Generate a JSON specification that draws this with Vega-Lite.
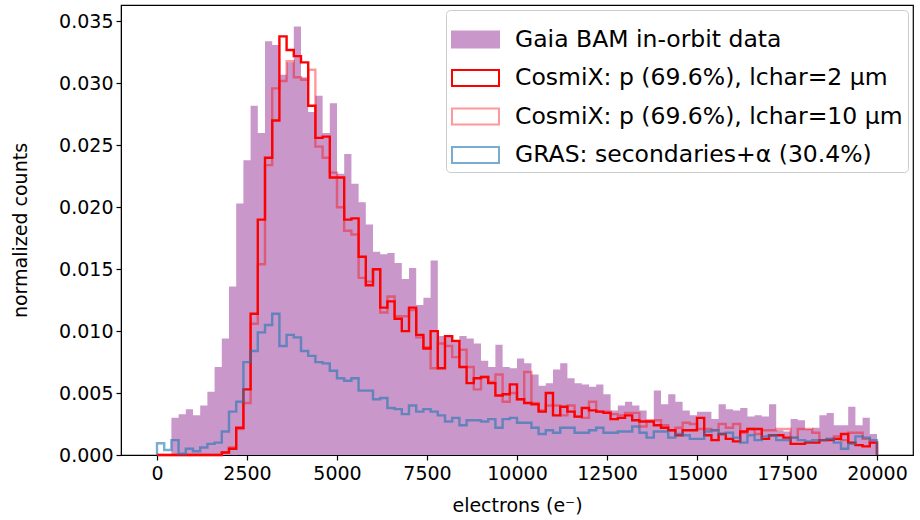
{
  "$schema": "https://vega.github.io/schema/vega-lite/v6.json",
  "width": 792,
  "height": 450,
  "autosize": {"type": "none"},
  "padding": {"left": 121, "top": 5, "right": 7, "bottom": 65},
  "background": "white",
  "config": {
    "font": "DejaVu Sans",
    "view": {"stroke": "black", "strokeWidth": 1.2},
    "axis": {"grid": false, "domainColor": "black", "tickColor": "black", "tickSize": 5, "tickWidth": 1.2, "labelFontSize": 19, "labelColor": "black", "titleFontSize": 19, "titleFontWeight": "normal", "titleColor": "black", "labelFont": "DejaVu Sans", "titleFont": "DejaVu Sans"},
    "legend": {"orient": "top-right", "offset": 5, "padding": 5, "titlePadding": 0, "fillColor": "rgba(255,255,255,0.85)", "strokeColor": "#cccccc", "strokeWidth": 1, "cornerRadius": 4, "labelFontSize": 23.5, "labelFont": "DejaVu Sans", "labelColor": "black", "labelLimit": 600, "symbolSize": 2209, "symbolStrokeWidth": 2, "rowPadding": 1.5, "labelOffset": 15}
  },
  "datasets": {
    "h": [
      {"k":0,"e":0,"gaia":0,"p2":0,"p10":0,"gras":0},
      {"k":1,"e":0,"gaia":0,"p2":0,"p10":0,"gras":0.00095},
      {"k":2,"e":200,"gaia":0,"p2":0,"p10":0,"gras":0.0004},
      {"k":3,"e":400,"gaia":0.0030,"p2":0,"p10":0,"gras":0.0012},
      {"k":4,"e":600,"gaia":0.0033,"p2":0,"p10":0,"gras":0.0001},
      {"k":5,"e":800,"gaia":0.0037,"p2":0,"p10":0,"gras":0.0005},
      {"k":6,"e":1000,"gaia":0.0032,"p2":0,"p10":0,"gras":0.0003},
      {"k":7,"e":1200,"gaia":0.0040,"p2":0,"p10":0,"gras":0.0006},
      {"k":8,"e":1400,"gaia":0.0051,"p2":0,"p10":0,"gras":0.0009},
      {"k":9,"e":1600,"gaia":0.0071,"p2":0,"p10":0,"gras":0.0010},
      {"k":10,"e":1800,"gaia":0.0094,"p2":0.0002,"p10":0.0002,"gras":0.0019},
      {"k":11,"e":2000,"gaia":0.0136,"p2":0.0005,"p10":0.0006,"gras":0.0035},
      {"k":12,"e":2200,"gaia":0.0203,"p2":0.0022,"p10":0.0021,"gras":0.0043},
      {"k":13,"e":2400,"gaia":0.0238,"p2":0.0053,"p10":0.0042,"gras":0.0075},
      {"k":14,"e":2600,"gaia":0.0282,"p2":0.0114,"p10":0.0106,"gras":0.0084},
      {"k":15,"e":2800,"gaia":0.0260,"p2":0.0190,"p10":0.0154,"gras":0.0099},
      {"k":16,"e":3000,"gaia":0.0334,"p2":0.0240,"p10":0.0234,"gras":0.0105},
      {"k":17,"e":3200,"gaia":0.0331,"p2":0.0270,"p10":0.0296,"gras":0.0114},
      {"k":18,"e":3400,"gaia":0.0307,"p2":0.0338,"p10":0.0302,"gras":0.0088},
      {"k":19,"e":3600,"gaia":0.0317,"p2":0.0327,"p10":0.0318,"gras":0.0097},
      {"k":20,"e":3800,"gaia":0.0346,"p2":0.0322,"p10":0.0305,"gras":0.0095},
      {"k":21,"e":4000,"gaia":0.0305,"p2":0.0317,"p10":0.0303,"gras":0.0084},
      {"k":22,"e":4200,"gaia":0.0277,"p2":0.0282,"p10":0.0311,"gras":0.0080},
      {"k":23,"e":4400,"gaia":0.0290,"p2":0.0256,"p10":0.0249,"gras":0.0075},
      {"k":24,"e":4600,"gaia":0.0260,"p2":0.0257,"p10":0.0240,"gras":0.0074},
      {"k":25,"e":4800,"gaia":0.0284,"p2":0.0224,"p10":0.0228,"gras":0.0068},
      {"k":26,"e":5000,"gaia":0.0227,"p2":0.0224,"p10":0.0200,"gras":0.0062},
      {"k":27,"e":5200,"gaia":0.0243,"p2":0.0190,"p10":0.0181,"gras":0.0060},
      {"k":28,"e":5400,"gaia":0.0219,"p2":0.0191,"p10":0.0178,"gras":0.0062},
      {"k":29,"e":5600,"gaia":0.0204,"p2":0.0160,"p10":0.0143,"gras":0.0052},
      {"k":30,"e":5800,"gaia":0.0186,"p2":0.0137,"p10":0.0140,"gras":0.0052},
      {"k":31,"e":6000,"gaia":0.0164,"p2":0.0150,"p10":0.0150,"gras":0.0045},
      {"k":32,"e":6200,"gaia":0.0162,"p2":0.0119,"p10":0.0115,"gras":0.0046},
      {"k":33,"e":6400,"gaia":0.0163,"p2":0.0124,"p10":0.0128,"gras":0.0038},
      {"k":34,"e":6600,"gaia":0.0155,"p2":0.0110,"p10":0.0112,"gras":0.0037},
      {"k":35,"e":6800,"gaia":0.0142,"p2":0.0100,"p10":0.0112,"gras":0.0033},
      {"k":36,"e":7000,"gaia":0.0151,"p2":0.0119,"p10":0.0117,"gras":0.0040},
      {"k":37,"e":7200,"gaia":0.0121,"p2":0.0097,"p10":0.0095,"gras":0.0035},
      {"k":38,"e":7400,"gaia":0.0127,"p2":0.0086,"p10":0.0087,"gras":0.0037},
      {"k":39,"e":7600,"gaia":0.0157,"p2":0.0100,"p10":0.0070,"gras":0.0035},
      {"k":40,"e":7800,"gaia":0.0096,"p2":0.0070,"p10":0.0090,"gras":0.0032},
      {"k":41,"e":8000,"gaia":0.0096,"p2":0.0096,"p10":0.0088,"gras":0.0027},
      {"k":42,"e":8200,"gaia":0.0091,"p2":0.0092,"p10":0.0079,"gras":0.0030},
      {"k":43,"e":8400,"gaia":0.0096,"p2":0.0071,"p10":0.0085,"gras":0.0024},
      {"k":44,"e":8600,"gaia":0.0094,"p2":0.0058,"p10":0.0071,"gras":0.0028},
      {"k":45,"e":8800,"gaia":0.0090,"p2":0.0062,"p10":0.0053,"gras":0.0028},
      {"k":46,"e":9000,"gaia":0.0076,"p2":0.0063,"p10":0.0063,"gras":0.0027},
      {"k":47,"e":9200,"gaia":0.0071,"p2":0.0058,"p10":0.0059,"gras":0.0029},
      {"k":48,"e":9400,"gaia":0.0089,"p2":0.0048,"p10":0.0065,"gras":0.0022},
      {"k":49,"e":9600,"gaia":0.0071,"p2":0.0049,"p10":0.0043,"gras":0.0029},
      {"k":50,"e":9800,"gaia":0.0070,"p2":0.0057,"p10":0.0050,"gras":0.0030},
      {"k":51,"e":10000,"gaia":0.0078,"p2":0.0045,"p10":0.0045,"gras":0.0026},
      {"k":52,"e":10200,"gaia":0.0074,"p2":0.0042,"p10":0.0067,"gras":0.0026},
      {"k":53,"e":10400,"gaia":0.0065,"p2":0.0041,"p10":0.0042,"gras":0.0022},
      {"k":54,"e":10600,"gaia":0.0056,"p2":0.0035,"p10":0.0036,"gras":0.0017},
      {"k":55,"e":10800,"gaia":0.0058,"p2":0.0050,"p10":0.0040,"gras":0.0020},
      {"k":56,"e":11000,"gaia":0.0069,"p2":0.0032,"p10":0.0040,"gras":0.0018},
      {"k":57,"e":11200,"gaia":0.0074,"p2":0.0039,"p10":0.0032,"gras":0.0022},
      {"k":58,"e":11400,"gaia":0.0062,"p2":0.0035,"p10":0.0040,"gras":0.0022},
      {"k":59,"e":11600,"gaia":0.0058,"p2":0.0031,"p10":0.0031,"gras":0.0018},
      {"k":60,"e":11800,"gaia":0.0057,"p2":0.0038,"p10":0.0030,"gras":0.0018},
      {"k":61,"e":12000,"gaia":0.0055,"p2":0.0036,"p10":0.0043,"gras":0.0020},
      {"k":62,"e":12200,"gaia":0.0057,"p2":0.0035,"p10":0.0035,"gras":0.0022},
      {"k":63,"e":12400,"gaia":0.0049,"p2":0.0034,"p10":0.0035,"gras":0.0018},
      {"k":64,"e":12600,"gaia":0.0036,"p2":0.0029,"p10":0.0033,"gras":0.0018},
      {"k":65,"e":12800,"gaia":0.0040,"p2":0.0030,"p10":0.0032,"gras":0.0019},
      {"k":66,"e":13000,"gaia":0.0043,"p2":0.0032,"p10":0.0034,"gras":0.0019},
      {"k":67,"e":13200,"gaia":0.0040,"p2":0.0028,"p10":0.0034,"gras":0.0023},
      {"k":68,"e":13400,"gaia":0.0036,"p2":0.0027,"p10":0.0023,"gras":0.0018},
      {"k":69,"e":13600,"gaia":0.0028,"p2":0.0027,"p10":0.0028,"gras":0.0014},
      {"k":70,"e":13800,"gaia":0.0052,"p2":0.0024,"p10":0.0028,"gras":0.0019},
      {"k":71,"e":14000,"gaia":0.0041,"p2":0.0022,"p10":0.0024,"gras":0.0019},
      {"k":72,"e":14200,"gaia":0.0049,"p2":0.0020,"p10":0.0020,"gras":0.0014},
      {"k":73,"e":14400,"gaia":0.0043,"p2":0.0016,"p10":0.0022,"gras":0.0017},
      {"k":74,"e":14600,"gaia":0.0036,"p2":0.0020,"p10":0.0026,"gras":0.0016},
      {"k":75,"e":14800,"gaia":0.0032,"p2":0.0020,"p10":0.0025,"gras":0.0013},
      {"k":76,"e":15000,"gaia":0.0035,"p2":0.0030,"p10":0.0021,"gras":0.0013},
      {"k":77,"e":15200,"gaia":0.0035,"p2":0.0016,"p10":0.0021,"gras":0.0019},
      {"k":78,"e":15400,"gaia":0.0029,"p2":0.0012,"p10":0.0020,"gras":0.0020},
      {"k":79,"e":15600,"gaia":0.0041,"p2":0.0017,"p10":0.0025,"gras":0.0017},
      {"k":80,"e":15800,"gaia":0.0037,"p2":0.0013,"p10":0.0022,"gras":0.0018},
      {"k":81,"e":16000,"gaia":0.0036,"p2":0.0011,"p10":0.0025,"gras":0.0014},
      {"k":82,"e":16200,"gaia":0.0038,"p2":0.0019,"p10":0.0018,"gras":0.0010},
      {"k":83,"e":16400,"gaia":0.0031,"p2":0.0021,"p10":0.0021,"gras":0.0016},
      {"k":84,"e":16600,"gaia":0.0032,"p2":0.0021,"p10":0.0017,"gras":0.0012},
      {"k":85,"e":16800,"gaia":0.0031,"p2":0.0013,"p10":0.0020,"gras":0.0015},
      {"k":86,"e":17000,"gaia":0.0041,"p2":0.0016,"p10":0.0020,"gras":0.0016},
      {"k":87,"e":17200,"gaia":0.0020,"p2":0.0016,"p10":0.0021,"gras":0.0012},
      {"k":88,"e":17400,"gaia":0.0019,"p2":0.0014,"p10":0.0021,"gras":0.0012},
      {"k":89,"e":17600,"gaia":0.0029,"p2":0.0009,"p10":0.0014,"gras":0.0014},
      {"k":90,"e":17800,"gaia":0.0028,"p2":0.0009,"p10":0.0021,"gras":0.0012},
      {"k":91,"e":18000,"gaia":0.0021,"p2":0.0010,"p10":0.0021,"gras":0.0011},
      {"k":92,"e":18200,"gaia":0.0022,"p2":0.0010,"p10":0.0018,"gras":0.0012},
      {"k":93,"e":18400,"gaia":0.0032,"p2":0.0012,"p10":0.0012,"gras":0.0012},
      {"k":94,"e":18600,"gaia":0.0034,"p2":0.0012,"p10":0.0013,"gras":0.0013},
      {"k":95,"e":18800,"gaia":0.0024,"p2":0.0013,"p10":0.0015,"gras":0.0010},
      {"k":96,"e":19000,"gaia":0.0024,"p2":0.0017,"p10":0.0012,"gras":0.0005},
      {"k":97,"e":19200,"gaia":0.0039,"p2":0.0010,"p10":0.0018,"gras":0.0009},
      {"k":98,"e":19400,"gaia":0.0024,"p2":0.0008,"p10":0.0018,"gras":0.0015},
      {"k":99,"e":19600,"gaia":0.0030,"p2":0.0007,"p10":0.0013,"gras":0.0014},
      {"k":100,"e":19800,"gaia":0.0017,"p2":0.0010,"p10":0.0010,"gras":0.0012},
      {"k":101,"e":20000,"gaia":0,"p2":0,"p10":0,"gras":0}
    ]
  },
  "data": {"name": "h"},
  "encoding": {
    "x": {"field": "e", "type": "quantitative", "scale": {"domain": [-1000, 21000], "nice": false, "zero": false},
          "axis": {"values": [0, 2500, 5000, 7500, 10000, 12500, 15000, 17500, 20000], "format": "d", "title": "electrons (e⁻)", "labelPadding": 4, "titlePadding": 13}}
  },
  "layer": [
    {
      "transform": [{"filter": "datum.k > 0"}],
      "mark": {"type": "area", "interpolate": "step-after", "color": "#c997c9"},
      "encoding": {
        "y": {"field": "gaia", "type": "quantitative", "scale": {"domain": [0, 0.03633], "nice": false},
              "axis": {"values": [0, 0.005, 0.01, 0.015, 0.02, 0.025, 0.03, 0.035], "format": ".3f", "title": "normalized counts", "labelPadding": 3, "titlePadding": 28}}
      }
    },
    {
      "mark": {"type": "line", "interpolate": "step-after", "strokeWidth": 2.4},
      "encoding": {
        "y": {"field": "p2", "type": "quantitative", "axis": {"title": "normalized counts"}},
        "order": {"field": "k", "type": "quantitative"},
        "color": {"datum": "CosmiX: p (69.6%), lchar=2 μm",
          "scale": {"domain": ["Gaia BAM in-orbit data", "CosmiX: p (69.6%), lchar=2 μm", "CosmiX: p (69.6%), lchar=10 μm", "GRAS: secondaries+α (30.4%)"], "range": ["#c997c9", "#ff0000", "#ff0000", "#1f77b4"]},
          "legend": {"title": null, "symbolType": "M-1,-0.34H1V0.34H-1Z", "symbolSize": 2209, "encode": {"symbols": {"update": {
            "fill": {"signal": "indexof(datum.value,'Gaia')>=0 ? '#c997c9' : 'transparent'"},
            "opacity": {"signal": "indexof(datum.value,'=10')>=0 ? 0.4 : indexof(datum.value,'GRAS')>=0 ? 0.6 : 1"}}}}}}
      }
    },
    {
      "mark": {"type": "line", "interpolate": "step-after", "strokeWidth": 2.4, "opacity": 0.4},
      "encoding": {
        "y": {"field": "p10", "type": "quantitative", "axis": {"title": "normalized counts"}},
        "order": {"field": "k", "type": "quantitative"},
        "color": {"datum": "CosmiX: p (69.6%), lchar=10 μm"}
      }
    },
    {
      "mark": {"type": "line", "interpolate": "step-after", "strokeWidth": 2.4, "opacity": 0.6},
      "encoding": {
        "y": {"field": "gras", "type": "quantitative", "axis": {"title": "normalized counts"}},
        "order": {"field": "k", "type": "quantitative"},
        "color": {"datum": "GRAS: secondaries+α (30.4%)"}
      }
    }
  ]
}
